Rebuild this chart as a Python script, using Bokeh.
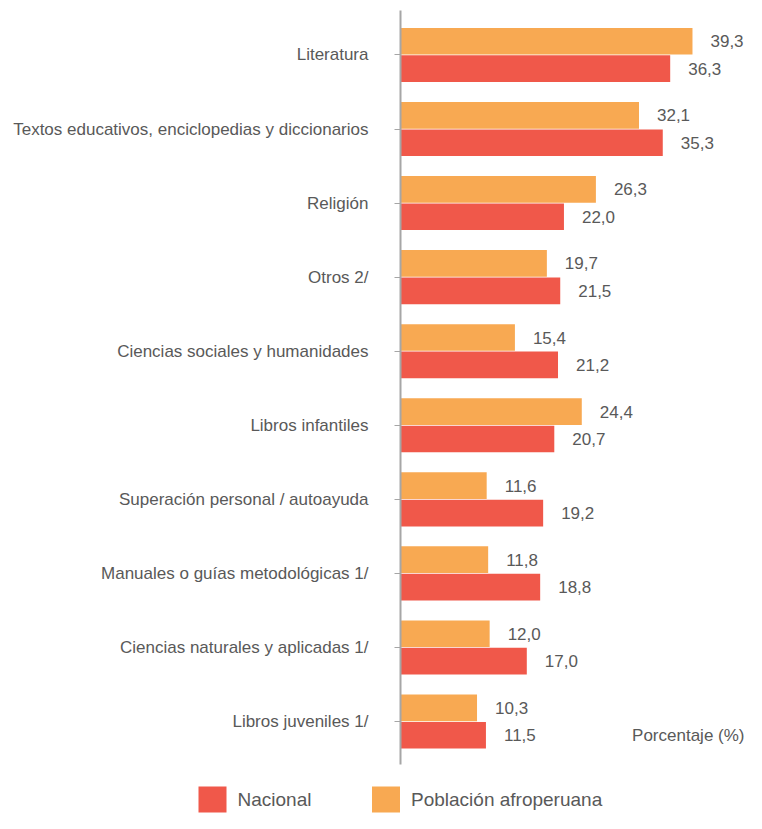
from bokeh.plotting import figure
from bokeh.models import ColumnDataSource, FixedTicker, Label, Range1d
from bokeh.layouts import column, row
from bokeh.embed import file_html
from bokeh.resources import INLINE
from bokeh.core.properties import value

categories = ["Literatura", "Textos educativos, enciclopedias y diccionarios", "Religión",
              "Otros 2/", "Ciencias sociales y humanidades", "Libros infantiles",
              "Superación personal / autoayuda", "Manuales o guías metodológicas 1/",
              "Ciencias naturales y aplicadas 1/", "Libros juveniles 1/"]
afroperuana = [39.3, 32.1, 26.3, 19.7, 15.4, 24.4, 11.6, 11.8, 12.0, 10.3]
nacional = [36.3, 35.3, 22.0, 21.5, 21.2, 20.7, 19.2, 18.8, 17.0, 11.5]
series_labels = ["Nacional", "Población afroperuana"]
axis_title = "Porcentaje (%)"

RED = "#F0584A"
ORANGE = "#F8A952"
TXT = "#595959"
AXIS = "#A6A6A6"
FONT = "Liberation Sans"
FS = "17px"
W = 746

n = len(categories)
ypos = [n - 1 - i for i in range(n)]

def fmt(v):
    return f"{v:.1f}".replace(".", ",")

src_a = ColumnDataSource(dict(y=[y + 0.185 for y in ypos], v=afroperuana, t=[fmt(v) for v in afroperuana]))
src_n = ColumnDataSource(dict(y=[y - 0.185 for y in ypos], v=nacional, t=[fmt(v) for v in nacional]))

p = figure(width=W, height=770, output_backend="svg", toolbar_location=None,
           x_range=Range1d(0, 46.57), y_range=Range1d(-0.58, 9.60),
           min_border_left=400, min_border_right=0, min_border_top=10, min_border_bottom=6)
p.outline_line_color = None
p.grid.visible = False
p.xaxis.visible = False

p.hbar(y="y", right="v", left=0, height=0.36, source=src_a, fill_color=ORANGE, line_color=None)
p.hbar(y="y", right="v", left=0, height=0.36, source=src_n, fill_color=RED, line_color=None)

for src in (src_a, src_n):
    p.text(x="v", y="y", text="t", source=src, x_offset=18, text_align="left",
           text_baseline="middle", text_font=value(FONT), text_font_size=FS, text_color=TXT)

yax = p.yaxis[0]
yax.ticker = FixedTicker(ticks=ypos)
yax.major_label_overrides = {y: c for y, c in zip(ypos, categories)}
yax.minor_tick_line_color = None
yax.major_tick_in = 0
yax.major_tick_out = 6
yax.axis_line_color = AXIS
yax.axis_line_width = 2
yax.major_tick_line_color = AXIS
yax.major_tick_line_width = 1
yax.major_label_standoff = 26
yax.major_label_text_font = FONT
yax.major_label_text_font_size = FS
yax.major_label_text_color = TXT

p.add_layout(Label(x=46.3, y=-0.185, text=axis_title, text_align="right", text_baseline="middle",
                   text_font=FONT, text_font_size=FS, text_color=TXT))

# legend strip (pixel-unit ranges)
LH = 43
lg = figure(width=W, height=LH, output_backend="svg", toolbar_location=None,
            x_range=Range1d(0, W), y_range=Range1d(0, LH),
            min_border_left=0, min_border_right=0, min_border_top=0, min_border_bottom=0)
lg.axis.visible = False
lg.grid.visible = False
lg.outline_line_color = None
sw_x = [212, 385.5]
sw_y = 14
leg_src = ColumnDataSource(dict(x=sw_x, y=[sw_y, sw_y], c=[RED, ORANGE],
                                tx=[x + 25 for x in sw_x], t=series_labels))
lg.rect(x="x", y="y", width=28, height=26, fill_color="c", line_color=None, source=leg_src)
lg.text(x="tx", y="y", text="t", source=leg_src, text_align="left", text_baseline="middle",
        text_font=value(FONT), text_font_size="19px", text_color=TXT)

layout = column(row(p), row(lg), spacing=0)
open("out.html", "w").write(file_html(layout, INLINE))
